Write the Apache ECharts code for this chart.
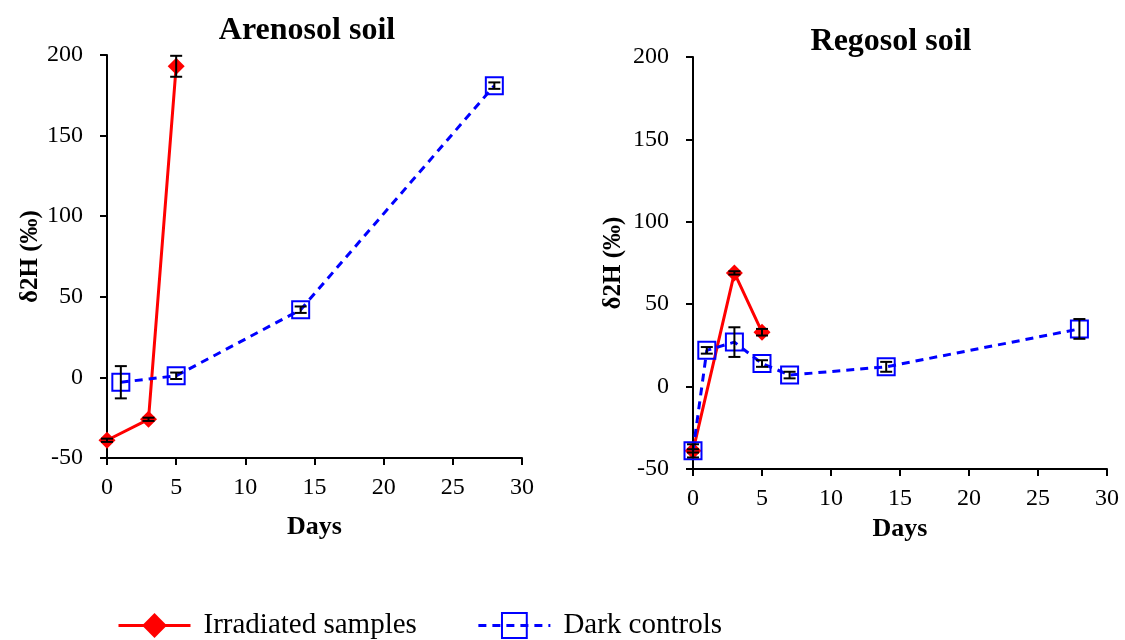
<!DOCTYPE html>
<html>
<head>
<meta charset="utf-8">
<script src="https://cdn.jsdelivr.net/npm/echarts@6/dist/echarts.min.js"></script>
<style>
  html, body { margin: 0; padding: 0; background: #fff; }
  #chart { width: 1125px; height: 640px; }
</style>
</head>
<body>
<div id="chart"></div>
<script>
// Arenosol soil
const arenoIrrDays = [0, 3, 5];
const arenoIrrVals = [-39, -26, 193];
const arenoIrrErr = [1, 1, 6.5];
const arenoDarkDays = [1, 5, 14, 28];
const arenoDarkVals = [-3, 1, 42, 181];
const arenoDarkErr = [10, 2, 2, 2];

// Regosol soil
const regoIrrDays = [0, 3, 5];
const regoIrrVals = [-39, 69, 33];
const regoIrrErr = [1, 1, 2];
const regoDarkDays = [0, 1, 3, 5, 7, 14, 28];
const regoDarkVals = [-39, 22, 27, 14, 7, 12, 35];
const regoDarkErr = [4, 2, 9, 2, 2, 3, 6];

const font = 'Liberation Serif';
const red = '#ff0000';
const blue = '#0000ff';

const myChart = echarts.init(document.getElementById('chart'));

function pts(days, vals) {
    return days.map((d, i) => [d, vals[i]]);
}

function errData(days, vals, errs) {
    return days.map((d, i) => [d, vals[i] - errs[i], vals[i] + errs[i]]);
}

// black whiskers drawn on top of the markers
function errSeries(idx, data) {
    return {
        type: 'custom',
        xAxisIndex: idx,
        yAxisIndex: idx,
        z: 10,
        silent: true,
        data: data,
        renderItem: function (params, api) {
            const x = api.value(0);
            const lo = api.coord([x, api.value(1)]);
            const hi = api.coord([x, api.value(2)]);
            const w = 6;
            const style = { stroke: '#000', lineWidth: 2 };
            return {
                type: 'group',
                children: [
                    { type: 'line', shape: { x1: lo[0], y1: lo[1], x2: hi[0], y2: hi[1] }, style: style },
                    { type: 'line', shape: { x1: lo[0] - w, y1: lo[1], x2: lo[0] + w, y2: lo[1] }, style: style },
                    { type: 'line', shape: { x1: hi[0] - w, y1: hi[1], x2: hi[0] + w, y2: hi[1] }, style: style }
                ]
            };
        }
    };
}

function irrSeries(idx, data) {
    return {
        name: 'Irradiated samples',
        type: 'line',
        xAxisIndex: idx,
        yAxisIndex: idx,
        data: data,
        symbol: 'diamond',
        symbolSize: 17,
        z: 3,
        itemStyle: { color: red },
        lineStyle: { color: red, width: 3 }
    };
}

function darkSeries(idx, data) {
    return {
        name: 'Dark controls',
        type: 'line',
        xAxisIndex: idx,
        yAxisIndex: idx,
        data: data,
        symbol: 'rect',
        symbolSize: 17,
        z: 4,
        itemStyle: { color: 'rgba(255,255,255,0)', borderColor: blue, borderWidth: 2 },
        lineStyle: { color: blue, width: 3, type: [8, 6] }
    };
}

const axisLabel = { fontFamily: font, fontSize: 24, color: '#000' };
const axisLine = { onZero: false, lineStyle: { color: '#000', width: 2 } };
const axisTick = { length: 7, lineStyle: { color: '#000', width: 2 } };
const nameStyle = { fontFamily: font, fontSize: 26, fontWeight: 'bold', color: '#000' };

function xAxis(idx, gap) {
    return {
        type: 'value', gridIndex: idx, min: 0, max: 30, interval: 5,
        name: 'Days', nameLocation: 'middle', nameGap: gap,
        nameTextStyle: nameStyle,
        axisLine: axisLine, axisTick: axisTick,
        axisLabel: Object.assign({ margin: 18 }, axisLabel),
        splitLine: { show: false }
    };
}

function yAxis(idx, gap) {
    return {
        type: 'value', gridIndex: idx, min: -50, max: 200, interval: 50,
        name: 'δ2H (‰)', nameLocation: 'middle', nameGap: gap,
        nameTextStyle: Object.assign({}, nameStyle, { fontSize: 25 }),
        axisLine: Object.assign({ show: true }, axisLine), axisTick: Object.assign({ show: true }, axisTick),
        axisLabel: Object.assign({ margin: 24 }, axisLabel),
        splitLine: { show: false }
    };
}

const option = {
    backgroundColor: '#fff',
    animation: false,
    title: [
        { text: 'Arenosol soil', left: 302, top: 10, textAlign: 'center',
          textStyle: { fontFamily: font, fontSize: 32, fontWeight: 'bold', color: '#000' } },
        { text: 'Regosol soil', left: 886, top: 21, textAlign: 'center',
          textStyle: { fontFamily: font, fontSize: 32, fontWeight: 'bold', color: '#000' } }
    ],
    legend: {
        top: 606,
        left: 112,
        itemWidth: 72,
        itemHeight: 31,
        itemGap: 60,
        lineStyle: { width: 3 },
        textStyle: { fontFamily: font, fontSize: 29, color: '#000', padding: [0, 0, 0, 8] },
        data: ['Irradiated samples', 'Dark controls']
    },
    grid: [
        { left: 107, right: 603, top: 55, bottom: 182 },
        { left: 693, right: 18, top: 57, bottom: 171 }
    ],
    xAxis: [xAxis(0, 56), xAxis(1, 45)],
    yAxis: [yAxis(0, 64), yAxis(1, 67)],
    series: [
        irrSeries(0, pts(arenoIrrDays, arenoIrrVals)),
        darkSeries(0, pts(arenoDarkDays, arenoDarkVals)),
        errSeries(0, errData(arenoIrrDays, arenoIrrVals, arenoIrrErr)),
        errSeries(0, errData(arenoDarkDays, arenoDarkVals, arenoDarkErr)),
        irrSeries(1, pts(regoIrrDays, regoIrrVals)),
        darkSeries(1, pts(regoDarkDays, regoDarkVals)),
        errSeries(1, errData(regoIrrDays, regoIrrVals, regoIrrErr)),
        errSeries(1, errData(regoDarkDays, regoDarkVals, regoDarkErr))
    ]
};

myChart.setOption(option);
</script>
</body>
</html>
